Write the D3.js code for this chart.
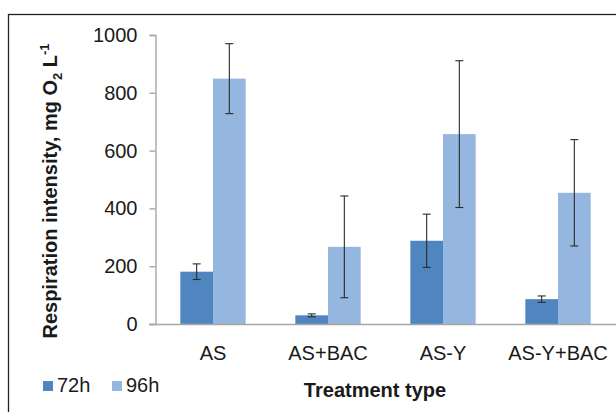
<!DOCTYPE html>
<html>
<head>
<meta charset="utf-8">
<script src="https://cdn.jsdelivr.net/npm/d3@7"></script>
<style>
  body { margin: 0; background: #fff; }
  svg { font-family: "Liberation Sans", Arial, sans-serif; }
</style>
</head>
<body>
<div id="chart"></div>
<script>
////
// DATA
////
var treatments = ["AS", "AS+BAC", "AS-Y", "AS-Y+BAC"];
var series_names = ["72h", "96h"];
var values_72h = [181, 30, 288, 86];
var values_96h = [849, 267, 657, 454];
var errors_72h = [27, 5, 92, 11];
var errors_96h = [121, 176, 254, 184];
var y_ticks = [0, 200, 400, 600, 800, 1000];

var colors = { "72h": "#4f86bf", "96h": "#95b7df" };

var bar_data = [];
treatments.forEach((t, i) => {
    bar_data.push({ "treatment": t, "series": "72h", "value": values_72h[i], "err": errors_72h[i] });
    bar_data.push({ "treatment": t, "series": "96h", "value": values_96h[i], "err": errors_96h[i] });
});

////
// CONTAINER
////
const width = 616, height = 412;
const svg = d3.select("#chart")
    .append("svg")
    .attr("width", width)
    .attr("height", height);

// frame round the chart area
svg.append("rect")
    .attr("x", 8.5).attr("y", 14.5)
    .attr("width", 640).attr("height", 420)
    .attr("fill", "none")
    .attr("stroke", "#222")
    .attr("stroke-width", 1.3);

// scales
var x = d3.scaleBand()
    .domain(treatments)
    .range([155.5, 615.5])
    .paddingInner(0.432)
    .paddingOuter(0.216);

var x_series = d3.scaleBand()
    .domain(series_names)
    .range([0, x.bandwidth()]);

var y = d3.scaleLinear()
    .domain([0, 1000])
    .range([324, 35]);

// y axis
var y_axis = svg.append("g")
    .attr("transform", "translate(155.5,0)")
    .call(d3.axisLeft(y).tickValues(y_ticks).tickFormat(d => String(d)).tickSize(6).tickPadding(12));
y_axis.select(".domain").attr("stroke", "#a6a6a6").attr("stroke-width", 1.4);
y_axis.selectAll(".tick line").attr("stroke", "#a6a6a6").attr("stroke-width", 1.4);
y_axis.selectAll(".tick text")
    .style("font-size", "20px")
    .attr("fill", "#1a1a1a")
    .attr("font-family", "Liberation Sans, Arial, sans-serif");

// bars
svg.selectAll(".bar")
    .data(bar_data)
    .enter()
    .append("rect")
    .attr("class", "bar")
    .attr("x", d => x(d.treatment) + x_series(d.series))
    .attr("y", d => y(d.value))
    .attr("width", x_series.bandwidth())
    .attr("height", d => y(0) - y(d.value))
    .attr("fill", d => colors[d.series]);

// x axis
var x_axis = svg.append("g")
    .attr("transform", "translate(0," + y(0) + ")")
    .call(d3.axisBottom(x).tickSize(0).tickPadding(22));
x_axis.select(".domain").remove();
x_axis.selectAll(".tick text")
    .style("font-size", "20px")
    .attr("fill", "#1a1a1a")
    .attr("font-family", "Liberation Sans, Arial, sans-serif");
svg.append("line")
    .attr("x1", 149).attr("x2", 616)
    .attr("y1", y(0) + 0.5).attr("y2", y(0) + 0.5)
    .attr("stroke", "#a6a6a6")
    .attr("stroke-width", 1.4);

// error bars
var err_g = svg.selectAll(".err")
    .data(bar_data)
    .enter()
    .append("g")
    .attr("class", "err")
    .attr("stroke", "#2a2a2a")
    .attr("stroke-width", 1.1);
var cx = d => x(d.treatment) + x_series(d.series) + x_series.bandwidth() / 2;
err_g.append("line")
    .attr("x1", cx).attr("x2", cx)
    .attr("y1", d => y(d.value + d.err)).attr("y2", d => y(d.value - d.err));
err_g.append("line")
    .attr("x1", d => cx(d) - 4).attr("x2", d => cx(d) + 4)
    .attr("y1", d => y(d.value + d.err)).attr("y2", d => y(d.value + d.err));
err_g.append("line")
    .attr("x1", d => cx(d) - 4).attr("x2", d => cx(d) + 4)
    .attr("y1", d => y(d.value - d.err)).attr("y2", d => y(d.value - d.err));

// y title
var y_title = svg.append("text")
    .attr("transform", "translate(57,191) rotate(-90)")
    .attr("text-anchor", "middle")
    .style("font-size", "20px")
    .style("font-weight", "bold")
    .attr("fill", "#1a1a1a");
y_title.append("tspan").text("Respiration intensity, mg O");
y_title.append("tspan").attr("dy", 5).style("font-size", "13px").text("2");
y_title.append("tspan").attr("dy", -5).text(" L");
y_title.append("tspan").attr("dy", -8).style("font-size", "13px").text("-1");

// x title
svg.append("text")
    .attr("x", 375).attr("y", 397)
    .attr("text-anchor", "middle")
    .style("font-size", "20px")
    .style("font-weight", "bold")
    .attr("fill", "#1a1a1a")
    .text("Treatment type");

// legend
var legend = svg.selectAll(".legend")
    .data(series_names)
    .enter()
    .append("g")
    .attr("class", "legend")
    .attr("transform", (d, i) => "translate(" + (43 + i * 69) + ",381)");
legend.append("rect")
    .attr("width", 10).attr("height", 10)
    .attr("fill", d => colors[d]);
legend.append("text")
    .attr("x", 14).attr("y", 11)
    .style("font-size", "20px")
    .attr("fill", "#1a1a1a")
    .text(d => d);
</script>
</body>
</html>
